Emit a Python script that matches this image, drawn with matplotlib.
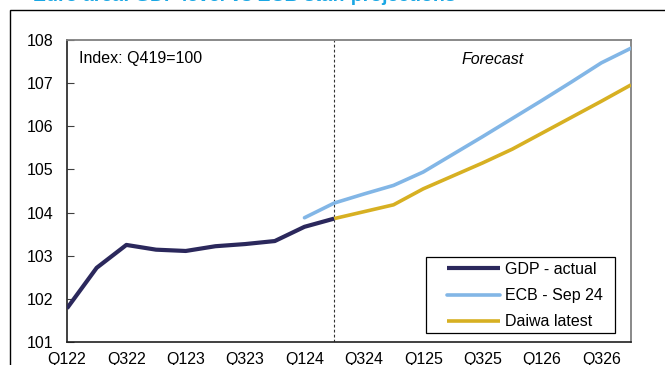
import matplotlib
matplotlib.use('Agg')
import matplotlib.pyplot as plt

plt.rcParams['font.family'] = ['Liberation Sans', 'DejaVu Sans']

quarters = ['Q122', 'Q222', 'Q322', 'Q422', 'Q123', 'Q223', 'Q323', 'Q423',
            'Q124', 'Q224', 'Q324', 'Q424', 'Q125', 'Q225', 'Q325', 'Q425',
            'Q126', 'Q226', 'Q326', 'Q426']

# GDP actual, Q122 to Q224
gdp_actual = [101.78, 102.72, 103.25, 103.14, 103.11, 103.22, 103.27, 103.34,
              103.67, 103.86]
# ECB Sep 24 projection, Q124 to Q426
ecb_sep24 = [103.88, 104.22, 104.43, 104.63, 104.94, 105.35, 105.76, 106.18,
             106.60, 107.03, 107.47, 107.81]
# Daiwa latest, Q224 to Q426
daiwa_latest = [103.86, 104.02, 104.18, 104.55, 104.85, 105.15, 105.47,
                105.84, 106.21, 106.58, 106.96]

gdp_x = list(range(0, len(gdp_actual)))
ecb_x = list(range(8, 8 + len(ecb_sep24)))
daiwa_x = list(range(9, 9 + len(daiwa_latest)))


def main():
    fig = plt.figure(figsize=(6.65, 3.65), dpi=100)
    ax = fig.add_axes([67 / 665, 1 - 342 / 365, 564 / 665, 302 / 365])

    # heading sits mostly above the top edge, plus the outer border
    fig.text(33 / 665, 1 - 1 / 365, 'Euro area: GDP level vs ECB staff projections',
             color='#1AA7E4', fontsize=14, fontweight='bold', va='baseline')
    fig.patches.append(plt.Rectangle((9.5 / 665, -0.2), 2, 1.2 - 10 / 365,
                                     transform=fig.transFigure, fill=False,
                                     edgecolor='black', lw=1.0))

    ax.plot(gdp_x, gdp_actual, color='#2B285C', lw=3.0,
            solid_capstyle='butt', label='GDP - actual', zorder=4)
    ax.plot(ecb_x, ecb_sep24, color='#82B6E6', lw=2.6,
            solid_capstyle='round', label='ECB - Sep 24', zorder=3)
    ax.plot(daiwa_x, daiwa_latest, color='#D7B022', lw=2.6,
            solid_capstyle='butt', label='Daiwa latest', zorder=3)

    ax.axvline(9, color='#333333', lw=0.8, ls=(0, (2.5, 2)), zorder=2)

    ax.set_xlim(0, len(quarters) - 1)
    ax.set_ylim(101, 108)
    ax.set_yticks(range(101, 109))
    ax.set_xticks(range(0, len(quarters), 2))
    ax.set_xticklabels(quarters[::2])

    ax.tick_params(axis='y', direction='in', length=5, width=0.8,
                   color='#404040', pad=10, labelsize=11.5)
    ax.tick_params(axis='x', length=0, pad=7.5, labelsize=11.5)

    for side in ['top', 'right']:
        ax.spines[side].set_color('#808080')
        ax.spines[side].set_linewidth(1.3)
    for side in ['left', 'bottom']:
        ax.spines[side].set_color('#202020')
        ax.spines[side].set_linewidth(1.2)

    ax.text(0.021, 0.94, 'Index: Q419=100', transform=ax.transAxes,
            fontsize=11.5, va='center', ha='left')
    ax.text(0.755, 0.934, 'Forecast', transform=ax.transAxes,
            fontsize=11.5, style='italic', va='center', ha='center')

    # legend box is wider than its entries, so draw the frame on its own
    ax.add_patch(plt.Rectangle((0.6365, 0.0298), 0.3351, 0.2517,
                               transform=ax.transAxes, fill=True,
                               facecolor='white', edgecolor='black',
                               lw=0.9, zorder=5))
    leg = ax.legend(loc='upper left', bbox_to_anchor=(0.674, 0.265),
                    fontsize=11.5, frameon=False,
                    handlelength=3.3, handletextpad=0.3, labelspacing=0.7,
                    borderpad=0, borderaxespad=0)
    leg.set_zorder(6)

    fig.savefig('out.png', dpi=100)
    plt.close(fig)


if __name__ == '__main__':
    main()
